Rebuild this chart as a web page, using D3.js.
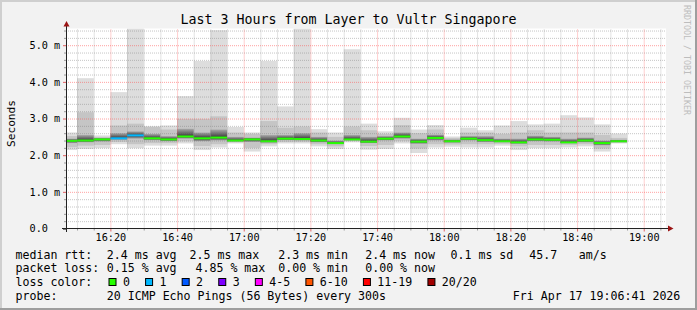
<!DOCTYPE html>
<html>
<head>
<meta charset="utf-8">
<script src="https://cdn.jsdelivr.net/npm/d3@7"></script>
<style>
  body { margin: 0; background: #f2f2f2; }
  svg { display: block; }
  text { font-family: "DejaVu Sans Mono", monospace; fill: #000; }
</style>
</head>
<body>
<div id="chart"></div>
<script>
var svgWidth = 697;
var svgHeight = 310;

// plot canvas: x 66..666, y 28.5..228.5
var margin = { top: 28.5, right: 31, bottom: 81.5, left: 66 };
var width = svgWidth - margin.left - margin.right;
var height = svgHeight - margin.top - margin.bottom;

var title = "Last 3 Hours from Layer to Vultr Singapore";
var yLabel = "Seconds";
var watermark = "RRDTOOL / TOBI OETIKER";

// 5 minute bins (start time of each bin)
var binStart = ["16:05", "16:10", "16:15", "16:20", "16:25", "16:30", "16:35", "16:40", "16:45", "16:50",
  "16:55", "17:00", "17:05", "17:10", "17:15", "17:20", "17:25", "17:30", "17:35", "17:40",
  "17:45", "17:50", "17:55", "18:00", "18:05", "18:10", "18:15", "18:20", "18:25", "18:30",
  "18:35", "18:40", "18:45", "18:50"];

// ping rtt distribution per bin (ms)
var pingMin = [2.14, 2.17, 2.19, 2.30, 2.19, 2.26, 2.26, 2.32, 2.14, 2.21, 2.32, 2.10, 2.24, 2.32, 2.32, 2.24, 2.17,
  2.35, 2.15, 2.17, 2.32, 2.06, 2.21, 2.23, 2.21, 2.21, 2.26, 2.14, 2.19, 2.19, 2.21, 2.24, 2.10, 2.32];
var pingP10 = [2.22, 2.26, 2.28, 2.36, 2.30, 2.33, 2.33, 2.38, 2.25, 2.30, 2.35, 2.20, 2.30, 2.36, 2.36, 2.30, 2.24,
  2.38, 2.25, 2.28, 2.38, 2.18, 2.30, 2.29, 2.30, 2.30, 2.31, 2.24, 2.28, 2.28, 2.28, 2.30, 2.18, 2.34];
var pingP25 = [2.33, 2.35, 2.37, 2.42, 2.45, 2.41, 2.38, 2.45, 2.38, 2.40, 2.37, 2.36, 2.34, 2.41, 2.40, 2.35, 2.30,
  2.40, 2.33, 2.40, 2.45, 2.31, 2.40, 2.34, 2.40, 2.36, 2.35, 2.31, 2.38, 2.37, 2.32, 2.35, 2.27, 2.35];
var medianRtt = [2.39, 2.40, 2.43, 2.46, 2.54, 2.46, 2.43, 2.51, 2.46, 2.48, 2.40, 2.43, 2.38, 2.45, 2.44, 2.40, 2.33,
  2.43, 2.37, 2.45, 2.51, 2.37, 2.47, 2.38, 2.45, 2.41, 2.38, 2.35, 2.43, 2.42, 2.35, 2.40, 2.33, 2.38];
var pingP75 = [2.45, 2.55, 2.47, 2.60, 2.65, 2.58, 2.52, 2.72, 2.62, 2.70, 2.50, 2.48, 2.55, 2.55, 2.60, 2.50, 2.40,
  2.55, 2.50, 2.52, 2.62, 2.45, 2.56, 2.43, 2.52, 2.52, 2.45, 2.45, 2.53, 2.50, 2.45, 2.48, 2.40, 2.42];
var pingP90 = [2.52, 3.17, 2.50, 2.81, 2.86, 2.77, 2.70, 2.99, 2.99, 3.06, 2.62, 2.58, 2.93, 2.75, 2.78, 2.62, 2.50,
  2.78, 2.68, 2.58, 2.82, 2.60, 2.70, 2.47, 2.62, 2.62, 2.58, 2.62, 2.68, 2.62, 2.62, 2.62, 2.55, 2.47];
var pingMax = [2.62, 4.10, 2.54, 3.72, 5.46, 2.79, 2.81, 3.61, 4.57, 5.41, 2.77, 2.62, 4.57, 3.33, 5.46, 2.71, 2.62,
  4.89, 2.86, 2.65, 3.02, 2.70, 2.82, 2.51, 2.75, 2.68, 2.81, 2.93, 2.84, 2.86, 3.09, 3.03, 2.84, 2.59];
// lost pings (of 20) per bin
var lossCount = [0, 0, 0, 1, 1, 0, 0, 0, 0, 0, 0, 0, 0, 0, 0, 0, 0,
  0, 0, 0, 0, 0, 0, 0, 0, 0, 0, 0, 0, 0, 0, 0, 0, 0];

var xTicks = ["16:20", "16:40", "17:00", "17:20", "17:40", "18:00", "18:20", "18:40", "19:00"];
var yTicks = [0, 1, 2, 3, 4, 5];

var lossLabels = ["0", "1", "2", "3", "4-5", "6-10", "11-19", "20/20"];
var lossColors = ["#26ff00", "#00b8ff", "#0059ff", "#7e00ff", "#ff00ff", "#ff5500", "#ff0000", "#a10000"];

var rttLegend = ["median rtt:", "2.4 ms avg", "2.5 ms max", "2.3 ms min", "2.4 ms now", "0.1 ms sd", "45.7", "am/s"];
var lossLegend = ["packet loss:", "0.15 % avg", "4.85 % max", "0.00 % min", "0.00 % now"];
var probeLegend = ["probe:", "20 ICMP Echo Pings (56 Bytes) every 300s", "Fri Apr 17 19:06:41 2026"];

var day = [2026, 3, 17];
function parseTime(s) {
  var p = s.split(":");
  return new Date(day[0], day[1], day[2], +p[0], +p[1], 0);
}

var startTime = new Date(2026, 3, 17, 16, 6, 41);
var endTime = new Date(2026, 3, 17, 19, 6, 41);

var svg = d3.select("#chart")
  .append("svg")
  .attr("width", svgWidth)
  .attr("height", svgHeight);

// background and 3d frame
svg.append("rect").attr("width", svgWidth).attr("height", svgHeight).attr("fill", "#f2f2f2");
svg.append("rect").attr("x", 0).attr("y", 0).attr("width", svgWidth).attr("height", 2).attr("fill", "#cfcfcf");
svg.append("rect").attr("x", 0).attr("y", 0).attr("width", 2).attr("height", svgHeight).attr("fill", "#cfcfcf");
svg.append("rect").attr("x", 0).attr("y", svgHeight - 2).attr("width", svgWidth).attr("height", 2).attr("fill", "#9e9e9e");
svg.append("rect").attr("x", svgWidth - 2).attr("y", 0).attr("width", 2).attr("height", svgHeight).attr("fill", "#9e9e9e");

// scales
var x = d3.scaleTime().domain([startTime, endTime]).range([margin.left, margin.left + width]);
var y = d3.scaleLinear().domain([0, 200 / 36.66]).range([margin.top + height, margin.top]);

// canvas
svg.append("rect")
  .attr("x", margin.left).attr("y", margin.top)
  .attr("width", width).attr("height", height)
  .attr("fill", "#ffffff");

var defs = svg.append("defs");
defs.append("clipPath").attr("id", "plotClip")
  .append("rect")
  .attr("x", margin.left).attr("y", margin.top)
  .attr("width", width).attr("height", height);

var bins = binStart.map(function(s, i) {
  var t = parseTime(s);
  return {
    t0: t,
    t1: d3.timeMinute.offset(t, 5),
    min: pingMin[i], p10: pingP10[i], p25: pingP25[i], med: medianRtt[i],
    p75: pingP75[i], p90: pingP90[i], max: pingMax[i], loss: lossCount[i]
  };
});

function lossIndex(n) {
  if (n <= 3) return n;
  if (n <= 5) return 4;
  if (n <= 10) return 5;
  if (n <= 19) return 6;
  return 7;
}

// gradient for the dense smoke core
bins.forEach(function(d, i) {
  var top = y(d.p75), bot = y(d.p25);
  var mid = (y(d.med) - top) / (bot - top);
  var grad = defs.append("linearGradient")
    .attr("id", "core" + i)
    .attr("gradientUnits", "userSpaceOnUse")
    .attr("x1", 0).attr("x2", 0)
    .attr("y1", top).attr("y2", bot);
  grad.append("stop").attr("offset", 0).attr("stop-color", "#a9a9a9");
  grad.append("stop").attr("offset", Math.max(0, Math.min(1, mid))).attr("stop-color", "#363636");
  grad.append("stop").attr("offset", 1).attr("stop-color", "#a9a9a9");
});

var chartGroup = svg.append("g").attr("clip-path", "url(#plotClip)");

// outer smoke
chartGroup.selectAll(".smoke-outer")
  .data(bins).enter().append("rect")
  .attr("x", d => x(d.t0)).attr("width", d => x(d.t1) - x(d.t0))
  .attr("y", d => y(d.max)).attr("height", d => y(d.min) - y(d.max))
  .attr("fill", "#dddddd");

chartGroup.selectAll(".smoke-mid")
  .data(bins).enter().append("rect")
  .attr("x", d => x(d.t0)).attr("width", d => x(d.t1) - x(d.t0))
  .attr("y", d => y(d.p90)).attr("height", d => y(d.p10) - y(d.p90))
  .attr("fill", "#c5c5c5");

chartGroup.selectAll(".smoke-core")
  .data(bins).enter().append("rect")
  .attr("x", d => x(d.t0)).attr("width", d => x(d.t1) - x(d.t0))
  .attr("y", d => y(d.p75)).attr("height", d => y(d.p25) - y(d.p75))
  .attr("fill", (d, i) => "url(#core" + i + ")");

// median line coloured by loss
chartGroup.selectAll(".median")
  .data(bins).enter().append("rect")
  .attr("x", d => x(d.t0)).attr("width", d => x(d.t1) - x(d.t0))
  .attr("y", d => y(d.med) - 1).attr("height", 2)
  .attr("fill", d => lossColors[lossIndex(d.loss)]);

// grid on top (rrdtool style dotted)
var minorX = x.ticks(d3.timeMinute.every(5)).filter(d => d.getMinutes() % 20 !== 0);
var majorX = x.ticks(d3.timeMinute.every(20));
var minorY = d3.range(1, 28).filter(i => i % 5 !== 0).map(i => i / 5);

function styleGrid(g, color) {
  g.select(".domain").remove();
  g.selectAll(".tick line")
    .attr("stroke", color)
    .attr("stroke-dasharray", "1,1");
}

svg.append("g")
  .attr("transform", `translate(0, ${margin.top + height})`)
  .call(d3.axisBottom(x).tickValues(minorX).tickSize(-height).tickFormat(""))
  .call(g => styleGrid(g, "rgba(120,120,120,0.42)"));

svg.append("g")
  .attr("transform", `translate(${margin.left}, 0)`)
  .call(d3.axisLeft(y).tickValues(minorY).tickSize(-width).tickFormat(""))
  .call(g => styleGrid(g, "rgba(120,120,120,0.42)"));

svg.append("g")
  .attr("transform", `translate(0, ${margin.top + height})`)
  .call(d3.axisBottom(x).tickValues(majorX).tickSize(-height).tickFormat(""))
  .call(g => styleGrid(g, "rgba(255,70,70,0.5)"));

svg.append("g")
  .attr("transform", `translate(${margin.left}, 0)`)
  .call(d3.axisLeft(y).tickValues(yTicks.filter(v => v > 0)).tickSize(-width).tickFormat(""))
  .call(g => styleGrid(g, "rgba(255,70,70,0.5)"));

// small axis tick marks
svg.append("g")
  .attr("transform", `translate(0, ${margin.top + height})`)
  .call(d3.axisBottom(x).tickValues(minorX).tickSize(2).tickFormat(""))
  .call(g => { g.select(".domain").remove(); g.selectAll(".tick line").attr("stroke", "#999"); });
svg.append("g")
  .attr("transform", `translate(0, ${margin.top + height})`)
  .call(d3.axisBottom(x).tickValues(majorX).tickSize(3).tickFormat(""))
  .call(g => { g.select(".domain").remove(); g.selectAll(".tick line").attr("stroke", "#e06060"); });
svg.append("g")
  .attr("transform", `translate(${margin.left}, 0)`)
  .call(d3.axisLeft(y).tickValues(minorY).tickSize(2).tickFormat(""))
  .call(g => { g.select(".domain").remove(); g.selectAll(".tick line").attr("stroke", "#999"); });

// y axis labels
var yAxis = svg.append("g")
  .attr("transform", `translate(${margin.left}, 0)`)
  .call(d3.axisLeft(y).tickValues(yTicks).tickSize(3)
    .tickFormat(d => d === 0 ? "0.0" : d3.format(".1f")(d) + " m"));
yAxis.select(".domain").remove();
yAxis.selectAll(".tick line").attr("stroke", d => d === 0 ? "#000" : "#e06060");
yAxis.selectAll(".tick text")
  .attr("text-anchor", "start")
  .attr("x", 29.5 - margin.left)
  .attr("dy", "0.33em")
  .style("font-family", "'DejaVu Sans Mono', monospace")
  .style("font-size", "10.2px")
  .attr("fill", "#000");

// x axis labels
var xAxis = svg.append("g")
  .attr("transform", `translate(0, ${margin.top + height})`)
  .call(d3.axisBottom(x).tickValues(xTicks.map(parseTime)).tickSize(0)
    .tickFormat(d3.timeFormat("%H:%M")));
xAxis.select(".domain").remove();
xAxis.selectAll(".tick text")
  .attr("y", 12)
  .attr("dy", null)
  .style("font-family", "'DejaVu Sans Mono', monospace")
  .style("font-size", "10.2px")
  .attr("fill", "#000");

// axis lines and arrows
var axisColor = "#222";
var arrowColor = "#9b1414";
svg.append("line")
  .attr("x1", margin.left - 4).attr("x2", margin.left + width + 2)
  .attr("y1", margin.top + height).attr("y2", margin.top + height)
  .attr("stroke", axisColor);
svg.append("line")
  .attr("x1", margin.left + 0.5).attr("x2", margin.left + 0.5)
  .attr("y1", margin.top + height + 3.5).attr("y2", margin.top - 3)
  .attr("stroke", axisColor);
svg.append("path")
  .attr("d", `M${margin.left + width + 2},${margin.top + height - 3}L${margin.left + width + 7.5},${margin.top + height}L${margin.left + width + 2},${margin.top + height + 3}Z`)
  .attr("fill", arrowColor);
svg.append("path")
  .attr("d", `M${margin.left - 2.5},${margin.top - 2}L${margin.left + 0.5},${margin.top - 7.5}L${margin.left + 3.5},${margin.top - 2}Z`)
  .attr("fill", arrowColor);

// title
svg.append("text")
  .attr("x", svgWidth / 2)
  .attr("y", 24)
  .attr("text-anchor", "middle")
  .style("font-size", "13.3px")
  .text(title);

// y label
svg.append("text")
  .attr("transform", "translate(14.5, 123.5) rotate(-90)")
  .attr("text-anchor", "middle")
  .style("font-size", "11.2px")
  .text(yLabel);

// watermark
svg.append("text")
  .attr("transform", "translate(684, 5) rotate(90)")
  .style("font-size", "8.3px")
  .style("fill", "#bdbdbd")
  .text(watermark);

// legend
var legendFont = "11.6px";
var rowY = [258.5, 272, 286, 299.5];

function legendRow(texts, xs, yPos) {
  texts.forEach(function(t, i) {
    svg.append("text")
      .attr("x", xs[i])
      .attr("y", yPos)
      .style("font-size", legendFont)
      .attr("xml:space", "preserve")
      .text(t);
  });
}

legendRow(rttLegend, [15.5, 106.8, 189.5, 278.2, 365.2, 450.5, 529.2, 578.8], rowY[0]);
legendRow(lossLegend, [15.5, 106.8, 195.5, 278.2, 365.2], rowY[1]);
legendRow(["loss color:"], [15.5], rowY[2]);
legendRow(probeLegend, [15.5, 106.8, 512.8], rowY[3]);

var bx = 108.5;
lossLabels.forEach(function(lbl, i) {
  svg.append("rect")
    .attr("x", bx + 0.5).attr("y", 278.5)
    .attr("width", 7).attr("height", 7)
    .attr("fill", lossColors[i])
    .attr("stroke", "#000");
  var t = svg.append("text")
    .attr("x", bx + 14.4)
    .attr("y", rowY[2])
    .style("font-size", legendFont)
    .text(lbl);
  bx = bx + 14.4 + t.node().getComputedTextLength() + 15.2;
});
</script>
</body>
</html>
